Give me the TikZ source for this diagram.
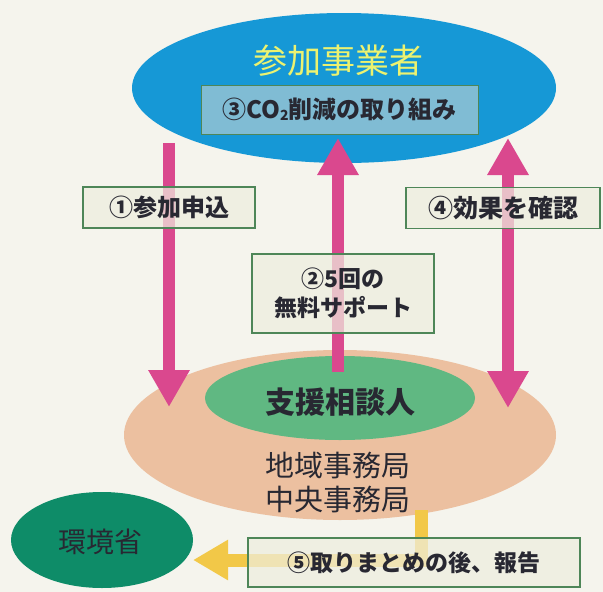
\documentclass[tikz,border=0pt]{standalone}
\usepackage{fontspec}
\newfontfamily\jp{Noto Sans CJK JP}
\usetikzlibrary{arrows.meta,shapes.geometric}
\definecolor{bg}{RGB}{245,244,237}
\definecolor{skyblue}{RGB}{22,152,214}
\definecolor{boxblue}{RGB}{128,188,212}
\definecolor{lemon}{RGB}{236,242,112}
\definecolor{tan}{RGB}{236,192,160}
\definecolor{leaf}{RGB}{96,184,130}
\definecolor{teal}{RGB}{14,140,104}
\definecolor{pinkar}{RGB}{218,72,142}
\definecolor{goldar}{RGB}{242,200,72}
\definecolor{tagfill}{RGB}{238,238,222}
\definecolor{tagline}{RGB}{78,134,88}
\definecolor{ink}{RGB}{40,40,50}
\begin{document}
\begin{tikzpicture}[x=1pt,y=-1pt,
  oval/.style={ellipse,inner sep=0pt},
  tag/.style={draw=tagline,line width=1.2pt,fill=tagfill,fill opacity=0.72,
    text opacity=1,text=ink,inner sep=0pt,align=center},
  pinkarrow/.style={draw=pinkar,line width=12pt,-{Triangle[width=39pt,length=37pt]}},
  twoway/.style={draw=pinkar,line width=12pt,
    {Triangle[width=39pt,length=37pt]}-{Triangle[width=39pt,length=37pt]}},
  goldarrow/.style={draw=goldar,line width=13pt,-{Triangle[width=38pt,length=35pt]}}]
  \fill[bg] (0,0) rectangle (603,592);
  \useasboundingbox (0,0) rectangle (603,592);
  % ovals
  \node[oval,fill=skyblue,minimum width=424pt,minimum height=150pt] (jigyo) at (344,88) {};
  \node[draw=tagline,line width=0.8pt,fill=boxblue,minimum width=277pt,minimum height=49pt,
    inner sep=0pt,text=ink,font=\jp\bfseries\fontsize{24}{26}\selectfont] (co2) at (339.5,109.5)
    {③CO{\fontsize{14}{14}\selectfont\raisebox{-2pt}{2}}削減の取り組み};
  \node[text=lemon,font=\jp\fontsize{34}{38}\selectfont] (sanka) at (338,61) {参加事業者};
  \node[oval,fill=tan,minimum width=432pt,minimum height=170pt] (office) at (340,435) {};
  \node[oval,fill=leaf,minimum width=270pt,minimum height=84pt] (shien) at (340,398) {};
  \node[text=ink,font=\jp\bfseries\fontsize{30}{32}\selectfont] (sodan) at (340,402) {支援相談人};
  \node[text=ink,font=\jp\fontsize{29}{34}\selectfont,align=center] (kyoku) at (338,483)
    {地域事務局\\中央事務局};
  \node[oval,fill=teal,minimum width=182pt,minimum height=96pt] (kankyo) at (102,540) {};
  \node[text=ink,font=\jp\fontsize{28}{30}\selectfont] (sho) at (100,542) {環境省};
  % arrows
  \coordinate (p1s) at (169,143); \coordinate (p1e) at (169,407);
  \coordinate (p2s) at (338,372); \coordinate (p2e) at (338,138);
  \coordinate (p3s) at (508,138); \coordinate (p3e) at (508,408);
  \coordinate (g0) at (421,510); \coordinate (gtip) at (193,560);
  \draw[pinkarrow] (p1s) -- (p1e);
  \draw[pinkarrow] (p2s) -- (p2e);
  \draw[twoway] (p3s) -- (p3e);
  \draw[goldarrow] (g0) |- (gtip);
  % tags
  \node[tag,minimum width=172pt,minimum height=41pt,font=\jp\bfseries\fontsize{24}{26}\selectfont]
    (t1) at (169,207.5) {①参加申込};
  \node[tag,minimum width=182pt,minimum height=79pt,font=\jp\bfseries\fontsize{23}{29}\selectfont]
    (t2) at (343,293.5) {②5回の\\無料サポート};
  \node[tag,minimum width=194pt,minimum height=41pt,font=\jp\bfseries\fontsize{25}{27}\selectfont]
    (t4) at (503,208) {④効果を確認};
  \node[tag,minimum width=332pt,minimum height=49pt,font=\jp\bfseries\fontsize{23}{26}\selectfont]
    (t5) at (414,562.5) {⑤取りまとめの後、報告};
\end{tikzpicture}
\end{document}
